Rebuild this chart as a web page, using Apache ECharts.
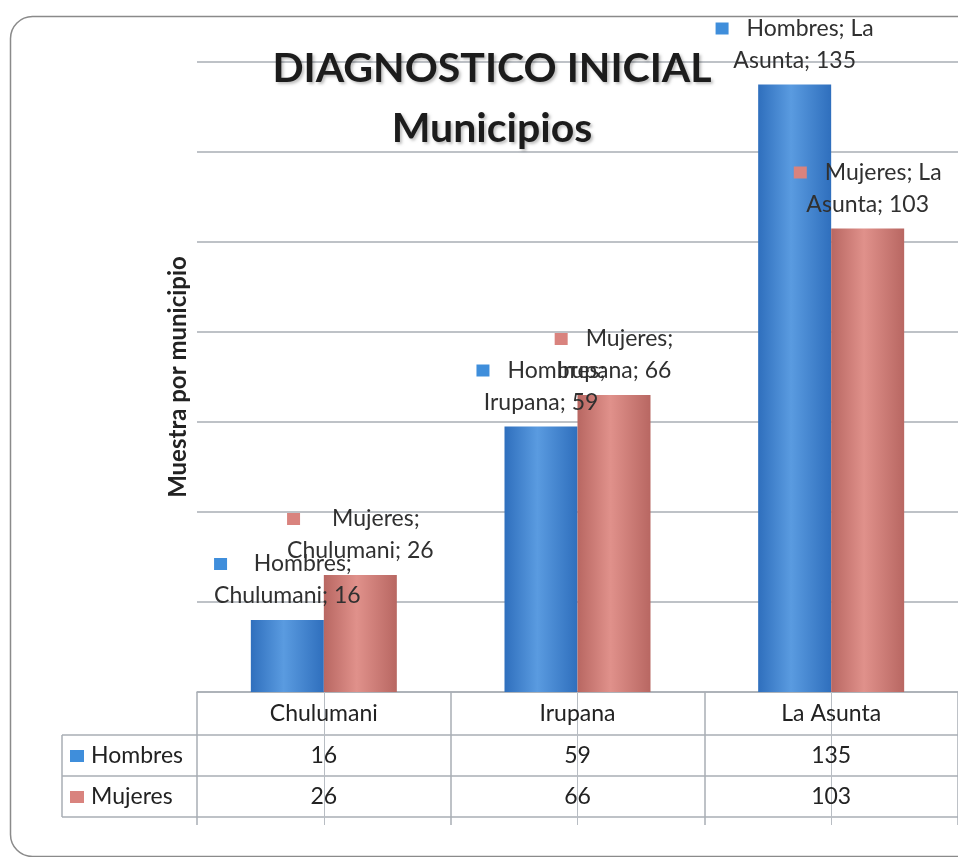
<!DOCTYPE html>
<html>
<head>
<meta charset="utf-8">
<script src="https://cdn.jsdelivr.net/npm/echarts@6/dist/echarts.min.js"></script>
<style>
  html, body { margin: 0; padding: 0; background: #fff; }
  #chart { width: 958px; height: 857px; }
</style>
</head>
<body>
<div id="chart"></div>
<script>
const categories = ['Chulumani', 'Irupana', 'La Asunta']
const seriesNames = ['Hombres', 'Mujeres']
const hombres = [16, 59, 135]
const mujeres = [26, 66, 103]
const yMin = 0
const yMax = 140
const yStep = 20

const font = 'Lato, "Open Sans", sans-serif'
const keyColors = ['#3f8edb', '#d9837e']
const gridColor = '#a9aeb5'
const textColor = '#222'

function barGradient(dark, light) {
  return new echarts.graphic.LinearGradient(0, 0, 1, 0, [
    { offset: 0, color: dark },
    { offset: 0.45, color: light },
    { offset: 1, color: dark },
  ])
}

// "Hombres; La\nAsunta; 135" style labels, with the legend key in front
function labelText(p) {
  const cat = p.name
  const sp = cat.indexOf(' ')
  let l1 = p.seriesName + ';'
  let l2
  if (sp > 0) {
    l1 += ' ' + cat.slice(0, sp)
    l2 = cat.slice(sp + 1) + '; ' + p.value
  } else {
    l2 = cat + '; ' + p.value
  }
  return '{k' + p.seriesIndex + '|}{gap|}{t|' + l1 + '}\n{t|' + l2 + '}'
}

const labelRich = {
  k0: { width: 13, height: 12, backgroundColor: keyColors[0], align: 'left' },
  k1: { width: 13, height: 12, backgroundColor: keyColors[1], align: 'left' },
  gap: { width: 18, align: 'left' },
  t: { fontSize: 23, fontFamily: font, color: '#303030', lineHeight: 32, align: 'center' },
}

function tableAxis(data, offset, showLabel) {
  return {
    type: 'category',
    data,
    position: 'bottom',
    offset,
    gridIndex: 0,
    axisLine: { show: true, onZero: false, lineStyle: { color: gridColor, width: 1.5 } },
    axisTick: { show: false },
    axisLabel: { show: showLabel, color: textColor, fontSize: 23, fontFamily: font, margin: 9 },
    splitLine: { show: false },
  }
}

const chart = echarts.init(document.getElementById('chart'), null, { renderer: 'canvas' })

chart.setOption({
  backgroundColor: '#fff',
  animation: false,
  title: {
    text: 'DIAGNOSTICO INICIAL\nMunicipios',
    left: 487,
    top: 34,
    textAlign: 'center',
    textStyle: {
      fontFamily: font,
      fontSize: 41,
      fontWeight: 'bold',
      lineHeight: 60,
      color: '#1c1c1c',
      textShadowColor: 'rgba(0,0,0,0.25)',
      textShadowBlur: 3,
      textShadowOffsetX: 2,
      textShadowOffsetY: 2,
    },
  },
  grid: { left: 197, top: 62, width: 765, height: 630, containLabel: false },
  xAxis: [
    {
      type: 'category',
      data: categories,
      position: 'bottom',
      axisLine: { show: true, onZero: false, lineStyle: { color: gridColor, width: 1.5 } },
      axisTick: { show: true, length: 133, lineStyle: { color: gridColor, width: 1.5 } },
      axisLabel: { color: textColor, fontSize: 23, fontFamily: font, margin: 10 },
    },
    tableAxis(hombres.map(String), 43, true),
    tableAxis(mujeres.map(String), 84, true),
    tableAxis(categories, 125, false),
    {
      type: 'category',
      data: categories,
      position: 'bottom',
      axisLine: { show: false, onZero: false },
      axisTick: { show: true, alignWithLabel: true, length: 133, lineStyle: { color: '#b8bdc3', width: 1 } },
      axisLabel: { show: false },
    },
  ],
  yAxis: {
    type: 'value',
    min: yMin,
    max: yMax,
    interval: yStep,
    name: 'Muestra por municipio',
    nameLocation: 'middle',
    nameGap: 7,
    nameTextStyle: { fontFamily: font, fontSize: 24, fontWeight: 'bold', color: textColor },
    axisLine: { show: false },
    axisTick: { show: false },
    axisLabel: { show: false },
    splitLine: { lineStyle: { color: gridColor, width: 1.5 } },
  },
  series: [
    {
      name: seriesNames[0],
      type: 'bar',
      data: hombres,
      barWidth: 73,
      barGap: '0%',
      itemStyle: { color: barGradient('#2f6fbd', '#5a9be0') },
      label: { show: true, position: 'top', distance: 8, formatter: labelText, rich: labelRich },
    },
    {
      name: seriesNames[1],
      type: 'bar',
      data: mujeres,
      barWidth: 73,
      barGap: '0%',
      itemStyle: { color: barGradient('#b86762', '#e0918b') },
      label: { show: true, position: 'top', distance: 8, formatter: labelText, rich: labelRich },
    },
  ],
  graphic: [
    {
      type: 'rect',
      left: 8,
      top: 14,
      shape: { width: 990, height: 840, r: 22 },
      style: { fill: 'none', stroke: '#8a8a8a', lineWidth: 1.5 },
      silent: true,
    },
    // row header column of the data table
    { type: 'line', shape: { x1: 62, y1: 735, x2: 197, y2: 735 }, style: { stroke: gridColor, lineWidth: 1.5 } },
    { type: 'line', shape: { x1: 62, y1: 776, x2: 197, y2: 776 }, style: { stroke: gridColor, lineWidth: 1.5 } },
    { type: 'line', shape: { x1: 62, y1: 817, x2: 197, y2: 817 }, style: { stroke: gridColor, lineWidth: 1.5 } },
    { type: 'line', shape: { x1: 62, y1: 735, x2: 62, y2: 817 }, style: { stroke: gridColor, lineWidth: 1.5 } },
    { type: 'rect', shape: { x: 70, y: 750, width: 14, height: 12 }, style: { fill: keyColors[0] } },
    { type: 'rect', shape: { x: 70, y: 791, width: 14, height: 12 }, style: { fill: keyColors[1] } },
    {
      type: 'text', x: 91, y: 756,
      style: { text: seriesNames[0], fill: textColor, font: '23px ' + font, verticalAlign: 'middle' },
    },
    {
      type: 'text', x: 91, y: 797,
      style: { text: seriesNames[1], fill: textColor, font: '23px ' + font, verticalAlign: 'middle' },
    },
  ],
})
</script>
</body>
</html>
